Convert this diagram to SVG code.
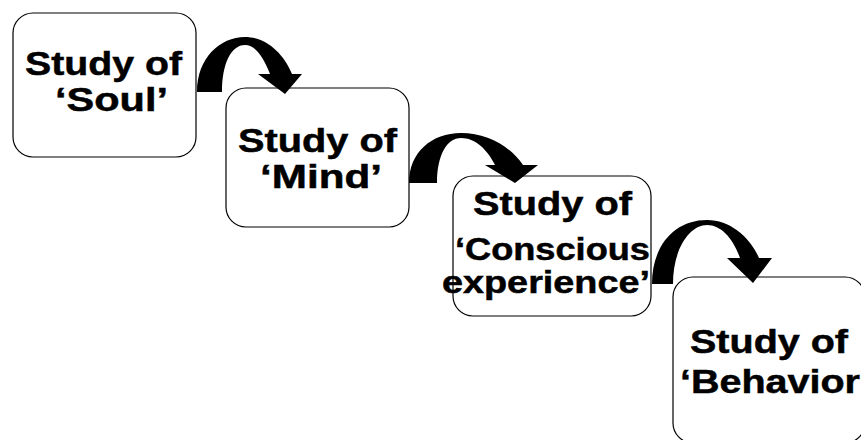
<svg xmlns="http://www.w3.org/2000/svg" width="861" height="440" viewBox="0 0 861 440">
<style>
.box{fill:#fff;stroke:#000;stroke-width:1.2}
.t{font-family:"Liberation Sans",Arial,sans-serif;font-weight:bold;font-size:34px;fill:#000;stroke:#000;stroke-width:0.5}
.s{font-size:31px}
.arr{fill:#000;stroke:none}
</style>
<rect width="861" height="440" fill="#fff"/>
<g id="node-soul">
<rect class="box" x="13" y="13" width="183" height="144" rx="20" ry="20"/>
<text class="t" x="25" y="75" textLength="157" lengthAdjust="spacingAndGlyphs">Study of</text>
<text class="t" x="55" y="111" textLength="113" lengthAdjust="spacingAndGlyphs">‘Soul’</text>
</g>
<g id="node-mind">
<rect class="box" x="226" y="88" width="183" height="139" rx="20" ry="20"/>
<text class="t" x="238" y="152" textLength="159" lengthAdjust="spacingAndGlyphs">Study of</text>
<text class="t" x="260" y="188" textLength="122" lengthAdjust="spacingAndGlyphs">‘Mind’</text>
</g>
<g id="node-conscious">
<rect class="box" x="453" y="176" width="198" height="140" rx="20" ry="20"/>
<text class="t" x="473" y="215" textLength="159" lengthAdjust="spacingAndGlyphs">Study of</text>
<text class="t s" x="455" y="260" textLength="195" lengthAdjust="spacingAndGlyphs">‘Conscious</text>
<text class="t s" x="442" y="293" textLength="208" lengthAdjust="spacingAndGlyphs">experience’</text>
</g>
<g id="node-behavior">
<rect class="box" x="673" y="277" width="192" height="166" rx="20" ry="20"/>
<text class="t" x="690" y="353" textLength="158" lengthAdjust="spacingAndGlyphs">Study of</text>
<text class="t" x="680" y="393" textLength="180" lengthAdjust="spacingAndGlyphs">‘Behavior</text>
</g>
<g id="connectors">
<path class="arr" d="M197,92 C197,58 220,37 245,37 C265,37 283,52 292,74 L302,74 L285,94 L258,74 L270,74 C263,56 255,45 245,45 C231,45 222,64 222,92 Z"/>
<path class="arr" d="M409,183 C409,152 432,133 461,133 C487,133 510,146 523,165 L538,165 L515,183 L485,165 L495,165 C487,149 475,138 461,138 C447,138 437,155 437,183 Z"/>
<path class="arr" d="M652,284 C652,245 675,220 707,220 C730,220 750,237 759,258 L772,258 L753,283 L727,258 L740,258 C733,238 721,225 707,225 C690,225 673,248 673,284 Z"/>
</g>
</svg>
